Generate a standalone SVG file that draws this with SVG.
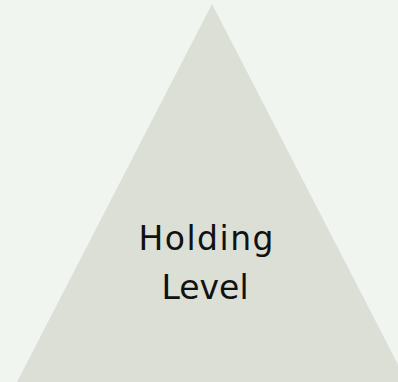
<svg xmlns="http://www.w3.org/2000/svg" width="398" height="382" viewBox="0 0 398 382">
<style>
.lbl{font-family:"DejaVu Sans","Liberation Sans",sans-serif;font-size:33px;fill:#111;text-anchor:middle}
</style>
<rect width="398" height="382" fill="#f1f5f0"/>
<g id="holding-level">
<polygon points="212,4 17,382 407,382" fill="#dcdfd6"/>
<text class="lbl" x="206" y="250" textLength="135" lengthAdjust="spacing">Holding</text>
<text class="lbl" x="205" y="299">Level</text>
</g>
</svg>
